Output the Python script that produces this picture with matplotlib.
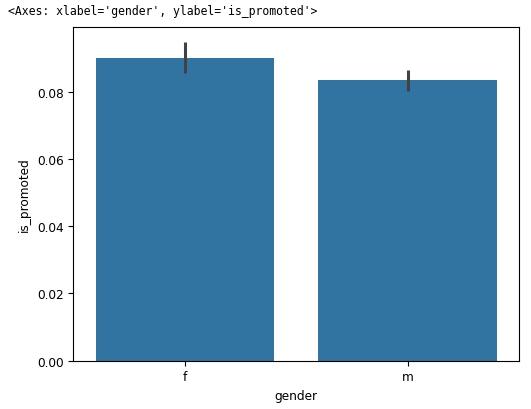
import matplotlib
matplotlib.use("Agg")
import matplotlib.pyplot as plt

categories = ["f", "m"]
values = [0.0901, 0.0834]
ci_low = [0.0857, 0.0803]
ci_high = [0.0949, 0.0866]
yticks = [0.00, 0.02, 0.04, 0.06, 0.08]

W, H = 531, 410
fig = plt.figure(figsize=(W / 100, H / 100), dpi=100)
ax = fig.add_axes([73.3 / W, 1 - 361.7 / H, (519 - 73.3) / W, (361.7 - 28.3) / H])

fs = 8.7
x = list(range(len(categories)))
ax.bar(x, values, width=0.8, color="#3274a1", edgecolor="#3274a1", linewidth=0)
for xi, lo, hi in zip(x, ci_low, ci_high):
    ax.plot([xi, xi], [lo, hi], color="#424242", linewidth=2.2, solid_capstyle="butt")

ax.set_xlim(-0.5, 1.5)
ax.set_ylim(0, 0.0992)
ax.set_xticks(x)
ax.set_xticklabels(categories, fontsize=fs)
ax.set_yticks(yticks)
ax.set_yticklabels([f"{v:.2f}" for v in yticks], fontsize=fs)
ax.set_xlabel("gender", fontsize=fs)
ax.set_ylabel("is_promoted", fontsize=fs)
ax.tick_params(length=3.5, width=0.8)

fig.text(8 / W, 1 - 12 / H, "<Axes: xlabel='gender', ylabel='is_promoted'>",
         family="DejaVu Sans Mono", fontsize=8.3, va="center", ha="left")

fig.savefig("out.png", dpi=100)
